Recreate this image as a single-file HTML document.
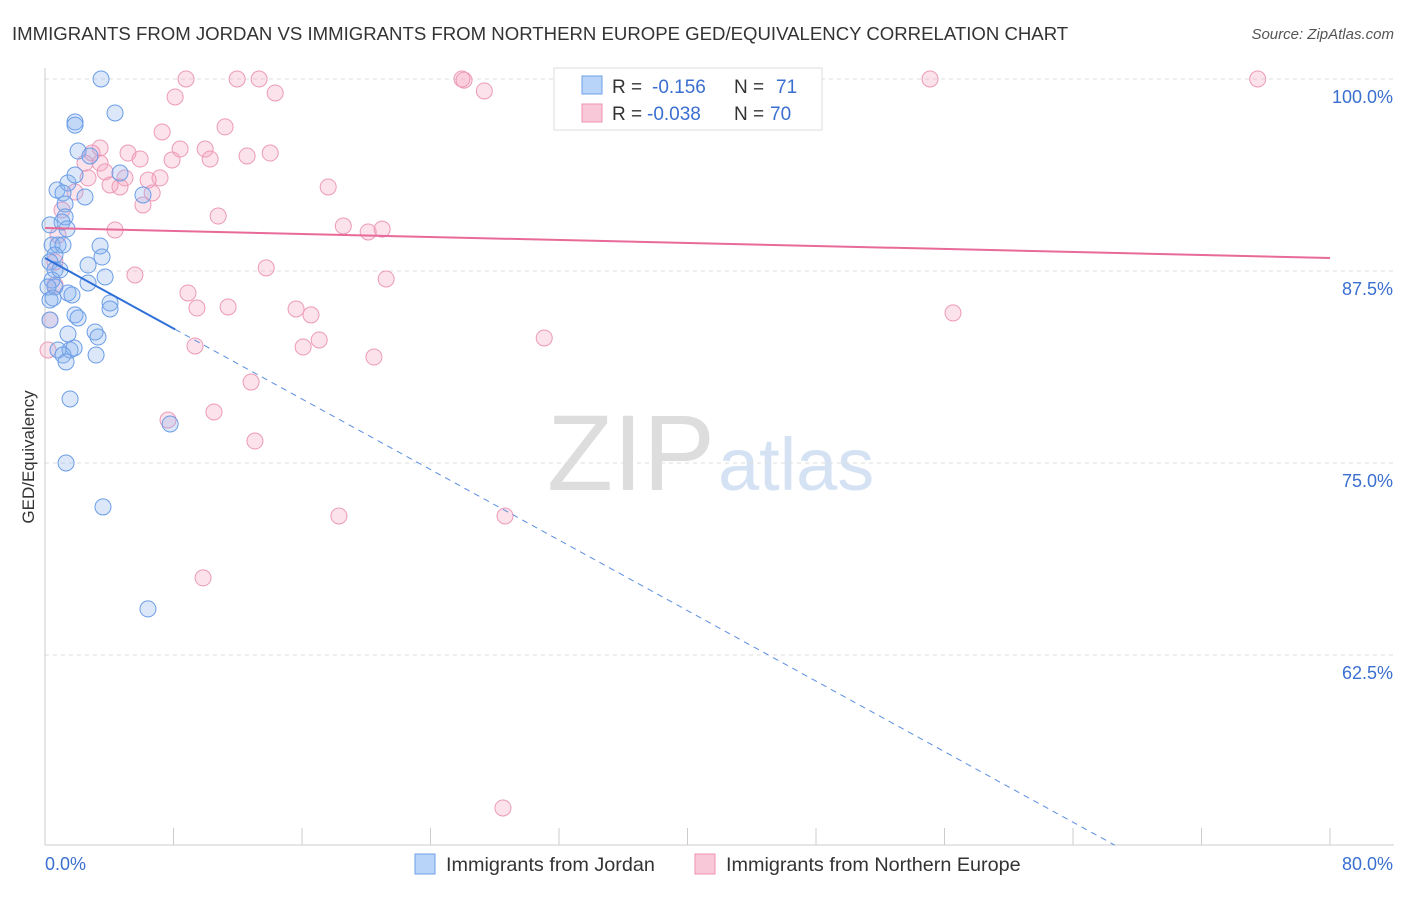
<!DOCTYPE html>
<html><head><meta charset="utf-8"><style>
body{margin:0;background:#fff;font-family:"Liberation Sans",sans-serif;}
svg text{font-family:"Liberation Sans",sans-serif;}
</style></head><body>
<svg id="chart" width="1406" height="892">
<text x="12" y="40" font-size="18.6" fill="#333">IMMIGRANTS FROM JORDAN VS IMMIGRANTS FROM NORTHERN EUROPE GED/EQUIVALENCY CORRELATION CHART</text>
<text x="1394" y="39" font-size="15" fill="#555" text-anchor="end" font-style="italic">Source: ZipAtlas.com</text>
<text x="715" y="490" font-size="108" fill="#ddd" text-anchor="end" font-family="Liberation Serif">ZIP</text>
<text x="718" y="490" font-size="74" fill="#d4e2f4">atlas</text>
<g id="grid"></g><g id="axes"></g><g id="pts"></g><g id="trends"></g>
<text transform="translate(34,457) rotate(-90)" font-size="17" fill="#333" text-anchor="middle">GED/Equivalency</text>
<g>
<rect x="554" y="68" width="268" height="62" fill="#fff" stroke="#ddd"/>
<rect x="582" y="76" width="20" height="18" fill="#b8d4f8" stroke="#6ea0e8"/>
<text x="612" y="93" font-size="19" fill="#333">R =</text>
<text x="652" y="93" font-size="19" fill="#3a6fd0">-0.156</text>
<text x="734" y="93" font-size="19" fill="#333">N =</text>
<text x="776" y="93" font-size="19" fill="#3a6fd0">71</text>
<rect x="582" y="104" width="20" height="18" fill="#f9c8d8" stroke="#ee92b2"/>
<text x="612" y="120" font-size="19" fill="#333">R =</text>
<text x="647" y="120" font-size="19" fill="#3a6fd0">-0.038</text>
<text x="734" y="120" font-size="19" fill="#333">N =</text>
<text x="770" y="120" font-size="19" fill="#3a6fd0">70</text>
</g>
<g>
<rect x="415" y="854" width="20" height="20" fill="#b8d4f8" stroke="#6ea0e8"/>
<text x="446" y="871" font-size="19.8" fill="#333">Immigrants from Jordan</text>
<rect x="695" y="854" width="20" height="20" fill="#f9c8d8" stroke="#ee92b2"/>
<text x="726" y="871" font-size="19.8" fill="#333">Immigrants from Northern Europe</text>
</g>
</svg>
<script>
const xTicks=[0,8,16,24,32,40,48,56,64,72,80];
const yTicks=[100,87.5,75,62.5];
const yTickLabels=["100.0%","87.5%","75.0%","62.5%"];
const jordanX=[3.49,4.36,1.87,1.87,2.06,2.8,4.67,0.75,1.43,1.87,1.12,2.49,6.1,1.25,1.25,1.06,1.37,0.31,0.44,0.81,1.12,3.43,3.55,0.62,2.68,0.31,0.62,3.74,0.44,2.68,0.62,1.43,1.68,0.31,4.05,4.05,1.87,2.06,0.31,3.12,3.3,1.43,0.81,1.56,1.81,1.12,1.31,3.18,1.56,7.79,1.31,3.61,6.41,0.93,0.19,0.5];
const jordanY=[100,97.79,97.2,97.0,95.31,94.99,93.88,92.77,93.23,93.75,92.58,92.32,92.45,91.86,91.02,90.69,90.24,90.5,89.19,89.19,89.19,89.13,88.41,88.54,87.89,88.09,87.57,87.11,86.91,86.72,86.46,86.07,85.94,85.61,85.42,85.03,84.64,84.44,84.31,83.53,83.2,83.4,82.36,82.36,82.49,82.03,81.58,82.03,79.17,77.54,75.0,72.14,65.5,87.57,86.46,85.74];
const neX=[8.78,11.96,13.33,25.96,26.09,55.1,75.5,33.0,14.33,8.1,27.35,11.21,7.29,3.43,2.93,9.97,8.41,5.17,5.92,7.91,12.58,14.02,10.28,2.49,3.43,3.74,2.68,4.98,7.16,6.42,4.05,4.67,6.67,1.87,17.63,6.1,10.78,1.06,4.36,18.57,20.12,20.99,0.81,0.62,13.77,5.6,21.24,0.62,8.9,9.46,11.4,15.63,16.56,17.07,16.07,31.08,56.53,9.34,0.19,20.48,12.83,7.66,10.52,13.07,18.3,28.64,9.84,28.51,0.31];
const neY=[100,100,100,100,99.93,100,100,100,99.09,98.83,99.22,96.88,96.55,95.51,95.18,95.44,95.44,95.18,94.79,94.73,94.99,95.18,94.79,94.53,94.53,93.95,93.56,93.56,93.56,93.42,93.1,92.97,92.58,92.64,92.97,91.8,91.08,91.47,90.17,90.43,90.04,90.23,89.84,88.09,87.7,87.24,86.98,86.59,86.07,85.09,85.16,85.03,84.64,83.01,82.55,83.14,84.77,82.62,82.36,81.9,80.27,77.8,78.32,76.43,71.55,71.55,67.52,52.54,84.31];
const jordanTrend=[88.35,-0.574,8.1,66.6];
const neTrend=[90.3,-0.0244];
const X=v=>45+v/80*1285, Y=v=>79+(100-v)/12.5*192;
const NS="http://www.w3.org/2000/svg";
function mk(p,t,a){const e=document.createElementNS(NS,t);for(const k in a)e.setAttribute(k,a[k]);p.appendChild(e);return e;}
const grid=document.getElementById('grid'),axes=document.getElementById('axes'),pts=document.getElementById('pts'),tr=document.getElementById('trends');
yTicks.forEach((t,i)=>{const l=mk(grid,'line',{x1:45,x2:1394,y1:Y(t),y2:Y(t),stroke:'#ddd','stroke-dasharray':'4,4'});


const tx=mk(axes,'text',{x:1393,y:Y(t)+24,'font-size':18,fill:'#3a6fd0','text-anchor':'end'});tx.textContent=yTickLabels[i];

});
mk(axes,'line',{x1:45,x2:45,y1:68,y2:845,stroke:'#ccc'});
mk(axes,'line',{x1:45,x2:1394,y1:845,y2:845,stroke:'#ccc'});
xTicks.forEach(t=>{const l=mk(axes,'line',{x1:X(t),x2:X(t),y1:828,y2:845,stroke:'#ccc'});

});
const xl0=mk(axes,'text',{x:45,y:870,'font-size':18,fill:'#3a6fd0'});xl0.textContent=xTicks[0].toFixed(1)+'%';


const xl1=mk(axes,'text',{x:1393,y:870,'font-size':18,fill:'#3a6fd0','text-anchor':'end'});xl1.textContent=xTicks[xTicks.length-1].toFixed(1)+'%';


neX.forEach((x,i)=>{const c=mk(pts,'circle',{cx:X(x),cy:Y(neY[i]),r:8,fill:'rgba(244,160,190,0.3)',stroke:'#ec9ab8','stroke-width':1});

});
jordanX.forEach((x,i)=>{const c=mk(pts,'circle',{cx:X(x),cy:Y(jordanY[i]),r:8,fill:'rgba(140,180,240,0.3)',stroke:'#6a9de6','stroke-width':1});

});
const [a,b,s,e]=jordanTrend;
const t1=mk(tr,'line',{x1:X(0),y1:Y(a),x2:X(s),y2:Y(a+b*s),stroke:'#2f6fd8','stroke-width':2});


const t2=mk(tr,'line',{x1:X(s),y1:Y(a+b*s),x2:X(e),y2:Y(a+b*e),stroke:'#5a8ee0','stroke-width':1,'stroke-dasharray':'6,5'});


const t3=mk(tr,'line',{x1:X(0),y1:Y(neTrend[0]),x2:X(80),y2:Y(neTrend[0]+neTrend[1]*80),stroke:'#e86a98','stroke-width':2});


</script>
</body></html>
